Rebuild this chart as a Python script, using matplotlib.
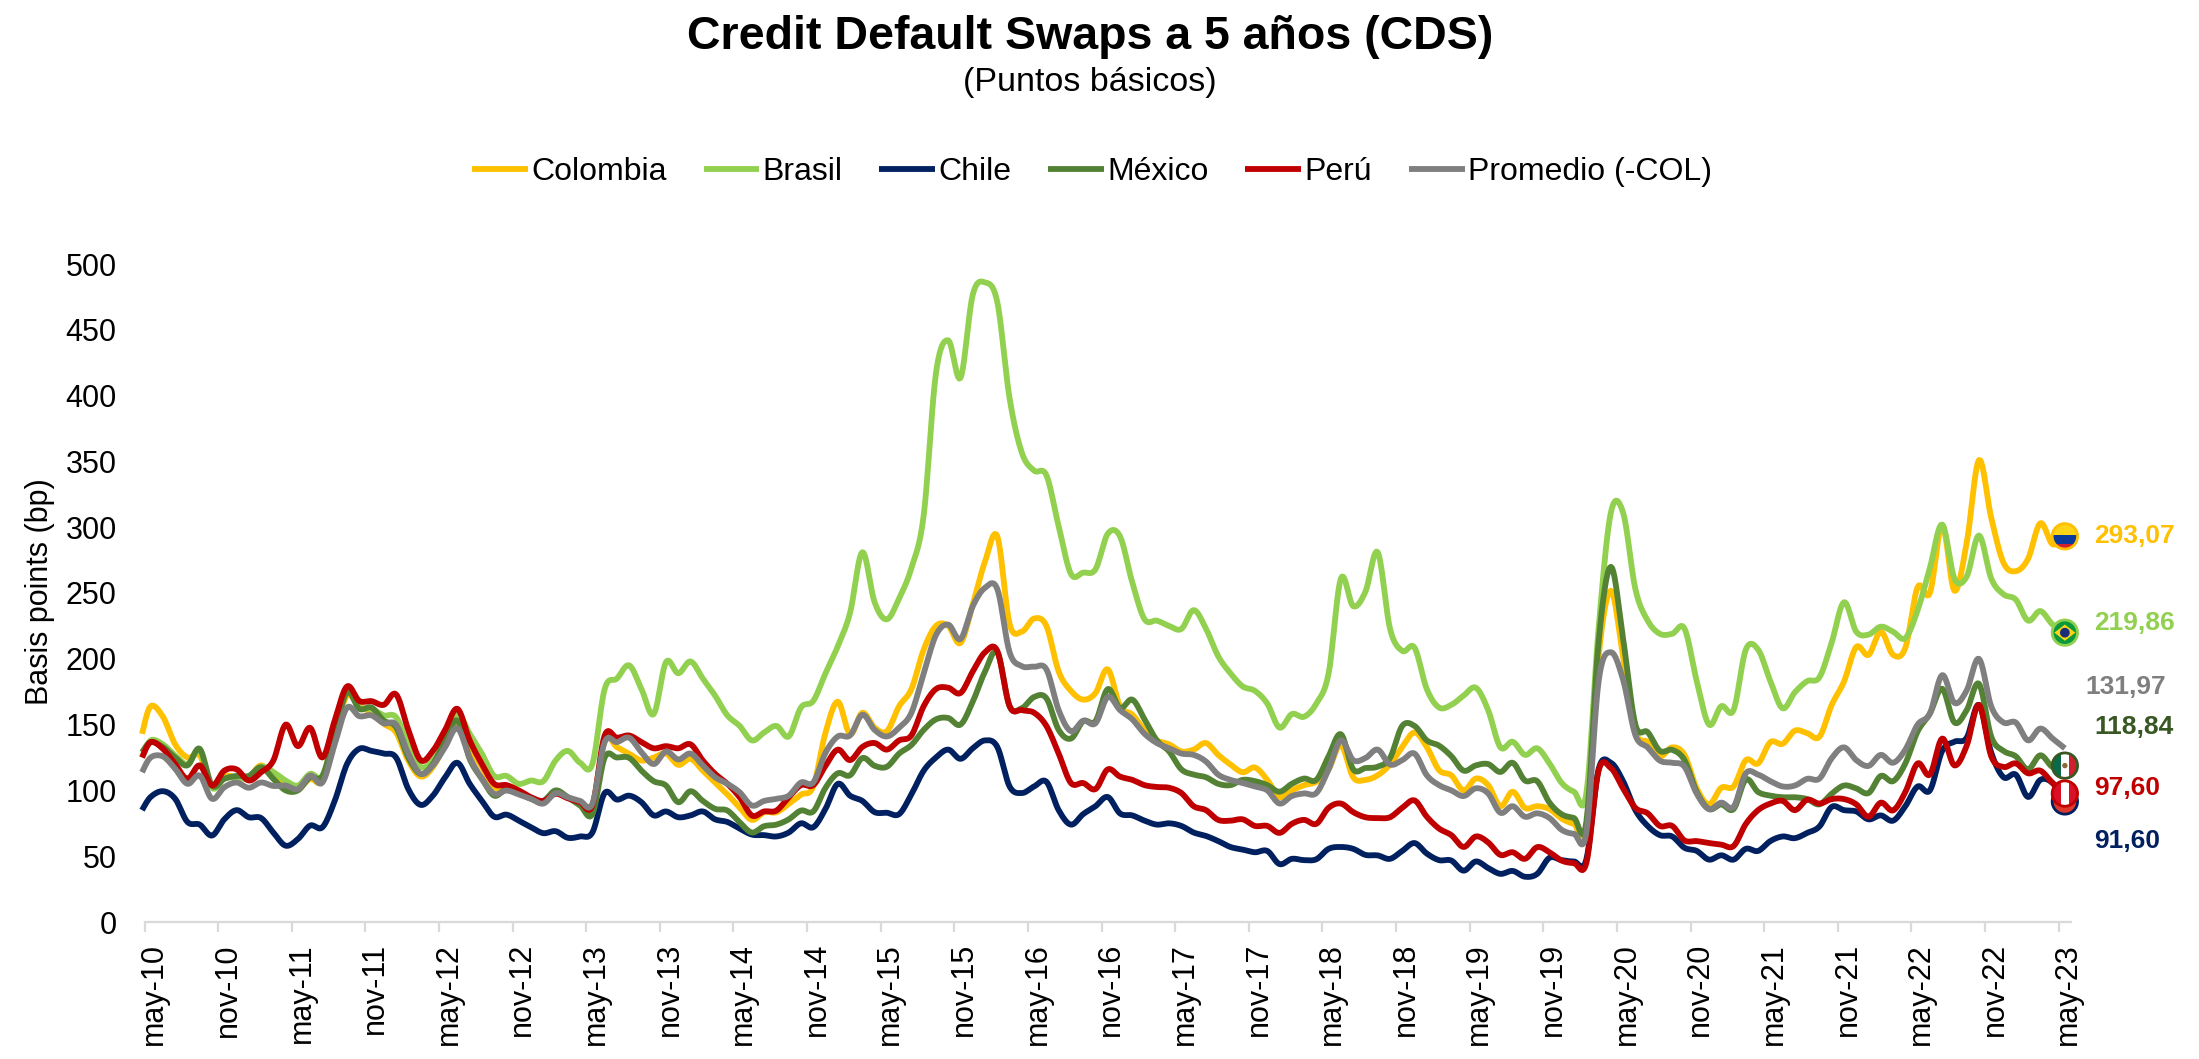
import numpy as np
import matplotlib
matplotlib.use("Agg")
import matplotlib.pyplot as plt
from matplotlib.patches import Circle, Rectangle, Polygon
from matplotlib.transforms import Affine2D, ScaledTranslation

plt.rcParams['font.family'] = ['Liberation Sans', 'DejaVu Sans']

# ---------- data (bp) ----------
chile = [85, 95,99.4,93.6,76,74,65.7,78,85,79.6,79,68,58,63,73.3,72,92,120,131.6,130,128,125,101,89,96,110,121,105,92,80,81.6,77,72,67.5,69,64,65,68,98,93,96,91,81,84,79.6,81,84,78,76,71,66.4,66,65,68,75,72,
 86,105,96,92,83.5,83,82,97,115,125,131,124,132,138,133,103,98,103,106.6,85,74,82,88,95,82.5,81,77,74,75,73,68,65.4,61.5,57,55,53,54,44,48,47,47.7,55.6,57,55.6,51,50.6,48,54,60,52,47,46.7,39,46,41,
 36.6,38.8,34.4,36.6,48.8,47,46,47.4,116,121,107,85,73,66,65,56.4,54,47.4,50.7,47.4,55.6,54,61.5,65,63.7,67.7,72.6,87.5,85,84,78,81,77,88,103,100,130,137,140,165,128.6,110,112,95,108,105.6,91.6]
brasil = [125, 138,135,126.5,120,130,102,109,110,109,118,114,107.5,103.7,112.6,111,143,176,163,162,157,155.7,135,118,122.7,138,158,143,127.8,111,111,105,107.5,107,122.7,130,121,120,177,185,195,177,158,197.5,189,198,185,172,157,149,138,144,149,141,163,168,
 189,209.5,235,281,243,230,246,269,309,417,442,413.5,476.7,486,471,398,356.6,343,339.5,300.7,264.5,265.5,268,295,293,258,230,229,225,222.7,237,223,202,189,179,175.6,166,147.7,158,156,166,189,261,240,251,281,223,206,208.5,177,163,165,172,178,161,
 132.7,137,127,132,120.5,105.6,99,97.5,223,311,311,253,229,219,219,223,183,150,164,161,207,207,183,162.4,174.6,183,186,212.5,243,220.6,218.4,224.4,220.6,215.7,236.9,269,302,261,262.5,293.7,261,249,245,229,236.3,226,219.86]
colombia = [143, 164,156,135,125,126.5,103.7,111,110,110,119,110,103.7,101,108.8,107.5,143,172,164,159,150.6,144,122.7,110.6,117.7,135,152,132.9,117.7,102.4,103.7,99.4,93.6,91,98.6,94.8,89.8,86,137.9,132.9,127.8,122.7,125,128,119.4,124,115,106,97,87,77.6,83.4,83.4,89.8,96.8,103,
 144,167.4,142.7,159,147.7,145,164,177,207,225,225,212,241.4,274,293,226.6,220.7,230.6,225,190.4,175.6,169,174,192,164,157.6,146,138,135,129.6,131,136,127,119.7,113.8,117.4,108,95,100,104,106.6,116,134.5,110,108,111.5,119.7,133,144,133,115.4,111.5,100,109,104,
 88,99,86.7,88,85.8,78.5,74.5,73,201.7,251.7,201.7,144.8,136.7,125.9,132.7,127,101.5,89.4,102,103,123,120.5,136.7,135.4,145.4,143.5,140.8,165,182.7,209,203,220.6,203,208.4,254.4,250,301.8,251.7,288,351,307,273,266.6,276,303,287,293.07]
mexico = [129, 136.7,133,125,119,131.6,103.7,108.8,111,111,117.6,108.8,100,100,110,111,143,174.7,162,163,153,148,125,112.6,120,138,153,124,108.8,96,101,97.9,93.6,92,100,94.8,88.5,82,125,125,124.7,115,107,103.7,91,99.4,92,86,84.7,75.8,68,72.8,74,78,84.7,84,
 102,113,111.5,124.6,118.7,118,128,134.5,146,154,155,150,167.4,190.4,205,164,162.5,171,170,146,139.4,152.6,152.6,177,162.5,169,154,138,129.6,116,112,110,105,104,108,107,104,99,105,109,108,126,142.7,116,117,118,124.6,149,149,138,134,126,115,119,120,
 114,121,107.5,107,90.7,81.8,79,75.8,212.5,269.9,215,150,144.3,130,130.8,123,98.8,85.8,89.4,85.8,108.3,98.8,96,94.8,94.8,93.4,89.4,97.5,103.7,101.5,98,111,107,120.5,144.8,158.4,177.3,151.6,161,181,140.8,130,125.9,116,126.7,117.8,118.84]
peru = [125, 136.7,131.6,120,108.8,119,103.7,115,116,107.5,113.8,122.7,150,133.6,147.6,125,153,179,168,167.8,165,173,146,123,130,146,162,138,120,105,104,100,94.8,92,97.4,94,91,88.5,141.7,140,141.7,136.7,132,133.6,132,135,122.7,112.6,105,94.8,80.9,84,84.7,94.8,104,104,
 118.7,131,123,133,136,131,138,141.8,164,177,178,174,190.4,205,206,164,161,159,149,128,105.6,105.6,101,116,110.5,108,104,102.6,102,98,88,85,77.6,77,78,73,73,67.7,74.6,77.6,74.6,86.8,90,83.5,79.6,79,79.6,86.8,92.4,80,71,66,57,65,60.5,
 51,53,48,56.9,53,46.6,44.7,44.7,115,117,101.5,86.7,82.6,73,73,62,61.5,60,58.8,57.7,74.5,85,90,92,85,92.9,90,93.4,93.4,89.4,80,90.7,84.8,98.8,120.5,112,139.4,119,134,165,125.9,117.8,120.5,113,115,105.6,97.6]
promedio = [113.8, 125,125.8,116.4,105,111.3,93.6,102.4,106,102,106,103.4,103.7,101,111.3,106,135,162.8,156.4,157,151,150,127.8,112.6,119,132.9,147.3,125,108.8,97.4,99.9,96.9,93.6,90,97.9,94.8,92,89.8,136.7,136.7,140,129,120,129.6,123.5,128,119,110,105,98.6,88.5,92,93.6,96,106,106,
 128.6,141,141.8,157.5,146,141,147.7,159,189,218,226,215,240,254,253,205,194.4,194,192,161,145,153,151,171,161,154,143,136,132,128,127,122,112,108,105.6,103,100,90,95.7,97.7,98,116,138,123,124.6,131,119.7,123,128,111.5,104,100,95.7,101.6,97.7,
 83,88,80,82.6,79,70,67,67.7,182.7,205,184,142,132.7,122.6,121,118,97.5,85.8,90.7,87.5,113,112,107,103,103.7,108.8,109,124.5,132.7,123,118.6,127,121,131,150,158.4,187.6,166.5,176,200,163.8,151.6,151.6,138,147,139.4,131.97]

years = list(range(10, 24))
tick_labels = [f"{m}-{y}" for y in years for m in ("may", "nov")][:-1]
series_names = ["Colombia", "Brasil", "Chile", "México", "Perú", "Promedio (-COL)"]
end_labels = ["293,07", "219,86", "131,97", "118,84", "97,60", "91,60"]

series = [colombia, brasil, chile, mexico, peru, promedio]
colors = ["#FFC000", "#92D050", "#002060", "#548235", "#C00000", "#7F7F7F"]
month_pos = np.array([-0.2] + [k + 0.5 for k in range(156)] + [156.5])
for s in series:
    if len(s) != len(month_pos):
        raise SystemExit(f"length {len(s)} != {len(month_pos)}")

W, H = 2199, 1059
fig = plt.figure(figsize=(W / 100, H / 100), dpi=100)
px_l, px_r, px_t, px_b = 144.5, 2071, 264, 922
ax = fig.add_axes([px_l / W, 1 - px_b / H, (px_r - px_l) / W, (px_b - px_t) / H])
ax.set_xlim(0, 157)
ax.set_ylim(0, 500)


def smooth(x, y, n=10):
    """Catmull-Rom curve through the points, as Excel's smoothed lines."""
    x = np.asarray(x, float)
    y = np.asarray(y, float)
    xe = np.r_[x[0], x, x[-1]]
    ye = np.r_[y[0], y, y[-1]]
    t = np.linspace(0, 1, n, endpoint=False)[:, None]
    h00, h10, h01, h11 = 2*t**3-3*t**2+1, t**3-2*t**2+t, -2*t**3+3*t**2, t**3-t**2
    def run(v):
        m = (v[2:] - v[:-2]) / 2
        seg = h00 * v[1:-2] + h10 * m[:-1] + h01 * v[2:-1] + h11 * m[1:]
        return np.r_[seg.T.ravel(), v[-2]]
    return run(xe), run(ye)


for s, c, name in zip(series, colors, series_names):
    xs, ys = smooth(month_pos, s)
    ax.plot(xs, ys, color=c, lw=4.2, label=name, clip_on=False,
            solid_capstyle="butt", solid_joinstyle="round")

for sp in ("top", "left", "right"):
    ax.spines[sp].set_visible(False)
ax.spines["bottom"].set_color("#D9D9D9")
ax.spines["bottom"].set_linewidth(1.6)
ax.set_xticks(np.arange(0, 157, 6))
ax.set_xticklabels(tick_labels, rotation=90, fontsize=22, color="black")
ax.set_yticks(np.arange(0, 501, 50))
ax.tick_params(axis="y", length=0, labelsize=22, pad=20)
ax.tick_params(axis="x", length=7.2, width=1.6, color="#D9D9D9", pad=8)
label_shift = ScaledTranslation(7 / 72, 0, fig.dpi_scale_trans)
for lab in ax.get_xticklabels():
    lab.set_transform(lab.get_transform() + label_shift)
fig.text(40 / W, 1 - 592 / H, "Basis points (bp)", rotation=90, ha="center", va="center", fontsize=22)

fig.text(1090 / W, 1 - 37 / H, "Credit Default Swaps a 5 años (CDS)", ha="center", va="center",
         fontsize=33.5, fontweight="bold")
fig.text(1090 / W, 1 - 82 / H, "(Puntos básicos)", ha="center", va="center", fontsize=24.5)

ax.legend(loc="center", bbox_to_anchor=(1092 / W, 1 - 172 / H), bbox_transform=fig.transFigure,
          ncol=6, frameon=False, fontsize=23, handlelength=1.75, handletextpad=0.1,
          columnspacing=1.15, borderpad=0, borderaxespad=0)

# end labels
label_px = [(2094, 536), (2094, 623), (2085, 687), (2094, 727), (2094, 788), (2094, 841)]
label_colors = ["#FFC000", "#92D050", "#7F7F7F", "#385723", "#C00000", "#002060"]
for txt, (lx, ly), c in zip(end_labels, label_px, label_colors):
    fig.text(lx / W, 1 - ly / H, txt, color=c, fontsize=19, fontweight="bold", ha="left", va="center")


# flags
def flag(value, edge, parts, r=13.5, z=10):
    cx, cy = ax.transData.transform((156.5, value))
    tr = Affine2D().scale(r).translate(cx, cy)
    clip = Circle((0, 0), 1, transform=tr)
    base = Circle((0, 0), 1, transform=tr, facecolor="white", edgecolor="none", zorder=z, clip_on=False)
    fig.add_artist(base)
    for p in parts:
        p.set_transform(tr)
        p.set_zorder(z + 0.1)
        p.set_edgecolor("none")
        fig.add_artist(p)
        p.set_clip_path(clip)
    fig.add_artist(Circle((0, 0), 0.94, transform=tr, facecolor="none", edgecolor=edge, lw=2, zorder=z + 0.2))


flag(colombia[-1], "#FFC000", [Rectangle((-1, 0.0), 2, 1, fc="#FFD416"), Rectangle((-1, -0.65), 2, 0.78, fc="#0A3A9A"),
                               Rectangle((-1, -1), 2, 0.4, fc="#D0202E")], z=10)
flag(brasil[-1], "#92D050", [Rectangle((-1, -1), 2, 2, fc="#0A9A3C"),
                             Polygon([(-0.78, 0), (0, 0.6), (0.78, 0), (0, -0.6)], fc="#FFD416"),
                             Circle((0, 0), 0.36, fc="#1A2F7A")], z=10)
flag(chile[-1], "#002060", [Rectangle((-1, -1), 2, 2, fc="#E0382B")], z=10)
flag(mexico[-1], "#385723", [Rectangle((-1, -1), 0.72, 2, fc="#0B6B48"), Rectangle((-0.3, -1), 0.62, 2, fc="white"),
                             Rectangle((0.3, -1), 0.7, 2, fc="#D0202E"), Circle((0, 0), 0.2, fc="#8A6A3A")], z=11)
flag(peru[-1], "#C00000", [Rectangle((-1, -1), 0.7, 2, fc="#DA1026"), Rectangle((-0.32, -1), 0.64, 2, fc="white"),
                           Rectangle((0.3, -1), 0.7, 2, fc="#DA1026")], z=12)

fig.savefig("out.png", dpi=100)
